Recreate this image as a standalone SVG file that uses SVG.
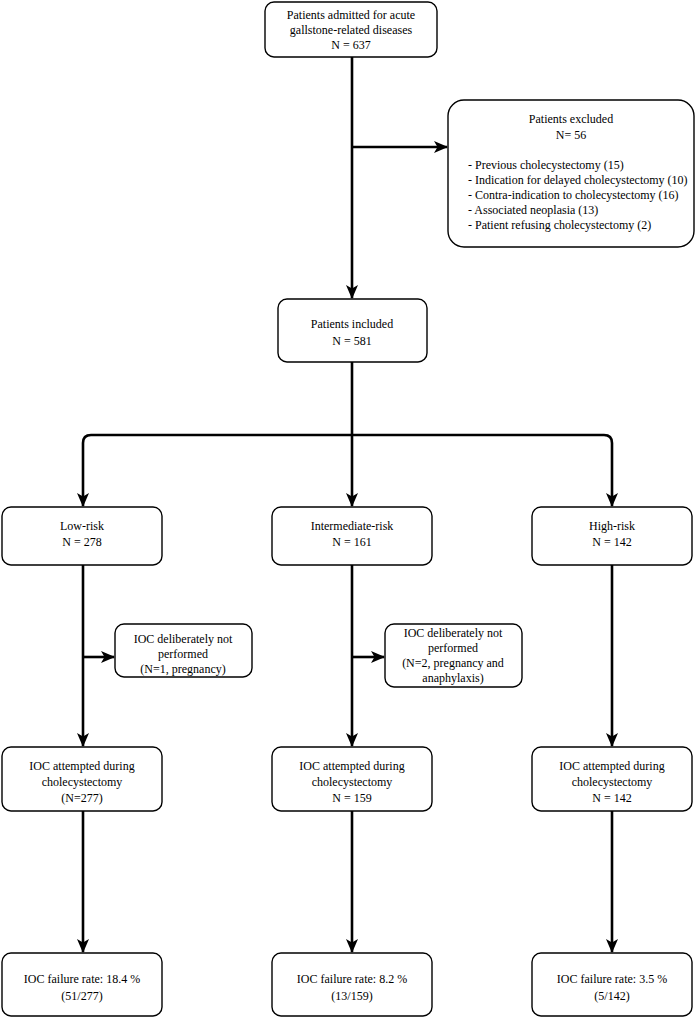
<svg xmlns="http://www.w3.org/2000/svg" width="696" height="1019" viewBox="0 0 696 1019">
<style>
.box{fill:#fff;stroke:#000;stroke-width:1.4}
.t{font-family:'Liberation Serif','DejaVu Serif',serif;font-size:12px;fill:#000;text-anchor:middle;dominant-baseline:middle}
.l{text-anchor:start}
.c{fill:none;stroke:#000;stroke-width:2.6}
</style>
<defs>
<marker id="ah" markerUnits="userSpaceOnUse" markerWidth="14" markerHeight="12" viewBox="0 0 14 12" refX="13" refY="6" orient="auto">
<path d="M0,0 L14,6 L0,12 L3.5,6 Z" fill="#000"/>
</marker>
</defs>
<rect width="696" height="1019" fill="#fff"/>
<g id="connectors">
<path class="c" d="M352,57 V298" marker-end="url(#ah)"/>
<path class="c" d="M352,147 H447" marker-end="url(#ah)"/>
<path class="c" d="M352,362 V506" marker-end="url(#ah)"/>
<path class="c" d="M352,435 H91 Q83,435 83,443 V506" marker-end="url(#ah)"/>
<path class="c" d="M352,435 H604 Q612,435 612,443 V506" marker-end="url(#ah)"/>
<path class="c" d="M83,565 V746" marker-end="url(#ah)"/>
<path class="c" d="M83,657 H114" marker-end="url(#ah)"/>
<path class="c" d="M352,565 V746" marker-end="url(#ah)"/>
<path class="c" d="M352,657 H384" marker-end="url(#ah)"/>
<path class="c" d="M612,565 V746" marker-end="url(#ah)"/>
<path class="c" d="M83,811 V952" marker-end="url(#ah)"/>
<path class="c" d="M352,811 V952" marker-end="url(#ah)"/>
<path class="c" d="M612,811 V952" marker-end="url(#ah)"/>
</g>
<g id="admitted">
<rect class="box" x="265" y="2" width="172" height="55" rx="9"/>
<text class="t" x="351" y="16">Patients admitted for acute</text>
<text class="t" x="351" y="31">gallstone-related diseases</text>
<text class="t" x="351" y="46">N = 637</text>
</g>
<g id="excluded">
<rect class="box" x="448" y="100" width="246" height="147" rx="16"/>
<text class="t" x="571" y="120">Patients excluded</text>
<text class="t" x="571" y="136">N= 56</text>
<text class="t l" x="468" y="166">- Previous cholecystectomy (15)</text>
<text class="t l" x="468" y="181">- Indication for delayed cholecystectomy (10)</text>
<text class="t l" x="468" y="196">- Contra-indication to cholecystectomy (16)</text>
<text class="t l" x="468" y="211">- Associated neoplasia (13)</text>
<text class="t l" x="468" y="226">- Patient refusing cholecystectomy (2)</text>
</g>
<g id="included">
<rect class="box" x="278" y="299" width="149" height="63" rx="9"/>
<text class="t" x="352" y="325">Patients included</text>
<text class="t" x="352" y="342">N = 581</text>
</g>
<g id="low">
<rect class="box" x="2" y="507" width="160" height="58" rx="9"/>
<text class="t" x="82" y="527">Low-risk</text>
<text class="t" x="82" y="543">N = 278</text>
</g>
<g id="intermediate">
<rect class="box" x="272" y="507" width="160" height="58" rx="9"/>
<text class="t" x="352" y="527">Intermediate-risk</text>
<text class="t" x="352" y="543">N = 161</text>
</g>
<g id="high">
<rect class="box" x="532" y="507" width="160" height="58" rx="9"/>
<text class="t" x="612" y="527">High-risk</text>
<text class="t" x="612" y="543">N = 142</text>
</g>
<g id="notperf1">
<rect class="box" x="115" y="624" width="137" height="53" rx="9"/>
<text class="t" x="183" y="640">IOC deliberately not</text>
<text class="t" x="183" y="655">performed</text>
<text class="t" x="183" y="670">(N=1, pregnancy)</text>
</g>
<g id="notperf2">
<rect class="box" x="385" y="624" width="137" height="63" rx="9"/>
<text class="t" x="453" y="634">IOC deliberately not</text>
<text class="t" x="453" y="649">performed</text>
<text class="t" x="453" y="664">(N=2, pregnancy and</text>
<text class="t" x="453" y="679">anaphylaxis)</text>
</g>
<g id="attempt-low">
<rect class="box" x="2" y="747" width="160" height="64" rx="9"/>
<text class="t" x="82" y="767">IOC attempted during</text>
<text class="t" x="82" y="783">cholecystectomy</text>
<text class="t" x="82" y="799">(N=277)</text>
</g>
<g id="attempt-int">
<rect class="box" x="272" y="747" width="160" height="64" rx="9"/>
<text class="t" x="352" y="767">IOC attempted during</text>
<text class="t" x="352" y="783">cholecystectomy</text>
<text class="t" x="352" y="799">N = 159</text>
</g>
<g id="attempt-high">
<rect class="box" x="532" y="747" width="160" height="64" rx="9"/>
<text class="t" x="612" y="767">IOC attempted during</text>
<text class="t" x="612" y="783">cholecystectomy</text>
<text class="t" x="612" y="799">N = 142</text>
</g>
<g id="fail-low">
<rect class="box" x="2" y="953" width="160" height="63" rx="9"/>
<text class="t" x="82" y="980">IOC failure rate: 18.4 %</text>
<text class="t" x="82" y="997">(51/277)</text>
</g>
<g id="fail-int">
<rect class="box" x="272" y="953" width="160" height="63" rx="9"/>
<text class="t" x="352" y="980">IOC failure rate: 8.2 %</text>
<text class="t" x="352" y="997">(13/159)</text>
</g>
<g id="fail-high">
<rect class="box" x="532" y="953" width="160" height="63" rx="9"/>
<text class="t" x="612" y="980">IOC failure rate: 3.5 %</text>
<text class="t" x="612" y="997">(5/142)</text>
</g>
</svg>
